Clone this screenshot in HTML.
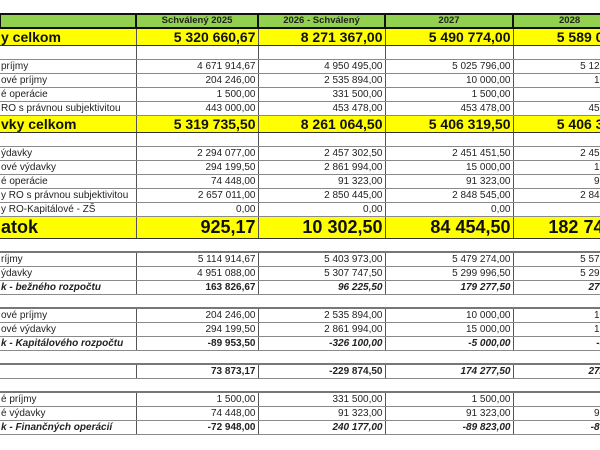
<!DOCTYPE html>
<html><head><meta charset="utf-8"><style>
body{margin:0;width:600px;height:450px;overflow:hidden;background:#fff;position:relative;font-family:"Liberation Sans",Arial,sans-serif;}
table{position:absolute;left:-1px;top:13px;border-collapse:collapse;table-layout:fixed;width:641px;}
td{padding:0 2px;font-size:10px;color:#222;white-space:nowrap;overflow:hidden;text-align:right;border-left:1px solid #555;border-right:1px solid #555;border-top:1px solid #8a8a8a;border-bottom:1px solid #8a8a8a;height:13px;line-height:13px;}
td:first-child{text-align:left;border-left:none;padding-left:1px;}
tr.h td{background:#92d050;border:2px solid #111;font-weight:bold;text-align:center;font-size:9.5px;height:12px;line-height:12px;}
tr.y td{background:#ffff00;font-weight:bold;font-size:14px;color:#111;height:16px;line-height:16px;border-top:1px solid #333;border-bottom:1px solid #333;}
tr.yb td{background:#ffff00;font-weight:bold;font-size:18px;color:#111;height:21px;line-height:21px;border-top:1px solid #333;border-bottom:1px solid #333;}
tr.b td{height:13px;}
tr.e td{border:none;height:12px;}
tr.g td{border-top:2px solid #777;}
tr.bi td{font-weight:bold;font-style:italic;}
</style></head><body>
<table>
<colgroup><col style="width:136px"><col style="width:122px"><col style="width:127px"><col style="width:128px"><col style="width:128px"></colgroup>
<tr class="h"><td></td><td>Schválený 2025</td><td>2026 - Schválený</td><td>2027</td><td style="text-align:left;padding-left:45px">2028</td></tr>
<tr class="y"><td>y celkom</td><td>5 320 660,67</td><td>8 271 367,00</td><td>5 490 774,00</td><td>5 589 067,00</td></tr>
<tr class="b"><td></td><td></td><td></td><td></td><td></td></tr>
<tr><td>príjmy</td><td>4 671 914,67</td><td>4 950 495,00</td><td>5 025 796,00</td><td>5 124 089,00</td></tr>
<tr><td>ové príjmy</td><td>204 246,00</td><td>2 535 894,00</td><td>10 000,00</td><td>10 000,00</td></tr>
<tr><td>é operácie</td><td>1 500,00</td><td>331 500,00</td><td>1 500,00</td><td>1 500,00</td></tr>
<tr><td>RO s právnou subjektivitou</td><td>443 000,00</td><td>453 478,00</td><td>453 478,00</td><td>453 478,00</td></tr>
<tr class="y"><td>vky celkom</td><td>5 319 735,50</td><td>8 261 064,50</td><td>5 406 319,50</td><td>5 406 319,50</td></tr>
<tr class="b"><td></td><td></td><td></td><td></td><td></td></tr>
<tr><td>ýdavky</td><td>2 294 077,00</td><td>2 457 302,50</td><td>2 451 451,50</td><td>2 451 451,50</td></tr>
<tr><td>ové výdavky</td><td>294 199,50</td><td>2 861 994,00</td><td>15 000,00</td><td>15 000,00</td></tr>
<tr><td>é operácie</td><td>74 448,00</td><td>91 323,00</td><td>91 323,00</td><td>91 323,00</td></tr>
<tr><td>y RO s právnou subjektivitou</td><td>2 657 011,00</td><td>2 850 445,00</td><td>2 848 545,00</td><td>2 848 545,00</td></tr>
<tr><td>y RO-Kapitálové - ZŠ</td><td>0,00</td><td>0,00</td><td>0,00</td><td>0,00</td></tr>
<tr class="yb"><td>atok</td><td>925,17</td><td>10 302,50</td><td>84 454,50</td><td>182 747,50</td></tr>
<tr class="e"><td></td><td></td><td></td><td></td><td></td></tr>
<tr class="g"><td>ríjmy</td><td>5 114 914,67</td><td>5 403 973,00</td><td>5 479 274,00</td><td>5 577 567,00</td></tr>
<tr><td>ýdavky</td><td>4 951 088,00</td><td>5 307 747,50</td><td>5 299 996,50</td><td>5 299 996,50</td></tr>
<tr class="bi"><td>k - bežného rozpočtu</td><td style="font-style:normal">163 826,67</td><td>96 225,50</td><td>179 277,50</td><td>277 570,50</td></tr>
<tr class="e"><td></td><td></td><td></td><td></td><td></td></tr>
<tr class="g"><td>ové príjmy</td><td>204 246,00</td><td>2 535 894,00</td><td>10 000,00</td><td>10 000,00</td></tr>
<tr><td>ové výdavky</td><td>294 199,50</td><td>2 861 994,00</td><td>15 000,00</td><td>15 000,00</td></tr>
<tr class="bi"><td>k - Kapitálového rozpočtu</td><td style="font-style:normal">-89 953,50</td><td>-326 100,00</td><td>-5 000,00</td><td>-5 000,00</td></tr>
<tr class="e"><td></td><td></td><td></td><td></td><td></td></tr>
<tr class="g bi"><td></td><td style="font-style:normal">73 873,17</td><td style="font-style:normal">-229 874,50</td><td>174 277,50</td><td>272 570,50</td></tr>
<tr class="e"><td></td><td></td><td></td><td></td><td></td></tr>
<tr class="g"><td>é príjmy</td><td>1 500,00</td><td>331 500,00</td><td>1 500,00</td><td>1 500,00</td></tr>
<tr><td>é výdavky</td><td>74 448,00</td><td>91 323,00</td><td>91 323,00</td><td>91 323,00</td></tr>
<tr class="bi"><td>k - Finančných operácií</td><td style="font-style:normal">-72 948,00</td><td>240 177,00</td><td>-89 823,00</td><td>-89 823,00</td></tr>
</table>
</body></html>
